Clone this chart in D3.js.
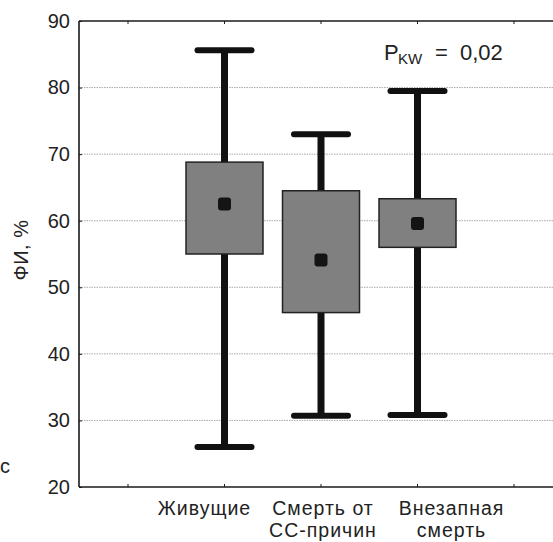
<!DOCTYPE html>
<html>
<head>
<meta charset="utf-8">
<script src="https://cdn.jsdelivr.net/npm/d3@7"></script>
<style>
  body { margin: 0; background: #fff; }
  svg { display: block; font-family: "Liberation Sans", Arial, sans-serif; }
  .grid line { stroke: #a8a8a8; stroke-width: 1; stroke-dasharray: 1.5,1; }
</style>
</head>
<body>
<div id="chart"></div>
<script>
// categories and box statistics
const groups = [['Живущие'], ['Смерть от', 'СС-причин'], ['Внезапная', 'смерть']];
const whiskerMax = [85.6, 73.0, 79.5];
const boxTop = [68.8, 64.5, 63.3];
const medians = [62.5, 54.1, 59.6];
const boxBottom = [55.0, 46.2, 56.0];
const whiskerMin = [26.0, 30.7, 30.8];
const yTicks = [20, 30, 40, 50, 60, 70, 80, 90];
const gridTicks = [30, 40, 50, 60, 70, 80];

const W = 553, H = 542;
const plotLeft = 79, plotTop = 21, plotBottom = 487;

const svg = d3.select('#chart').append('svg')
  .attr('width', W)
  .attr('height', H);

// x positions 0..4, groups sit at 1..3
const x = d3.scaleLinear().domain([0, 4]).range([128, 514]);
const y = d3.scaleLinear().domain([20, 90]).range([plotBottom, plotTop]);

// grid
svg.append('g')
  .attr('class', 'grid')
  .selectAll('line')
  .data(gridTicks)
  .enter().append('line')
  .attr('x1', plotLeft).attr('x2', W)
  .attr('y1', d => y(d)).attr('y2', d => y(d));

// frame
const frame = svg.append('g').attr('stroke', '#1a1a1a').attr('stroke-width', 1.6);
frame.append('line').attr('x1', plotLeft).attr('x2', W).attr('y1', plotTop).attr('y2', plotTop);
frame.append('line').attr('x1', plotLeft).attr('x2', W).attr('y1', plotBottom).attr('y2', plotBottom);
frame.append('line').attr('x1', plotLeft).attr('x2', plotLeft).attr('y1', plotTop).attr('y2', plotBottom);

// small inner ticks on x frame
[0, 1, 2, 3, 4].forEach(i => {
  frame.append('line').attr('stroke-width', 1)
    .attr('x1', x(i)).attr('x2', x(i)).attr('y1', plotTop).attr('y2', plotTop + 3);
  frame.append('line').attr('stroke-width', 1)
    .attr('x1', x(i)).attr('x2', x(i)).attr('y1', plotBottom).attr('y2', plotBottom - 3);
});

// y axis labels
const yAxis = d3.axisLeft(y).tickValues(yTicks).tickSize(-3).tickPadding(9);
const ya = svg.append('g').attr('transform', `translate(${plotLeft},0)`).call(yAxis);
ya.select('.domain').remove();
ya.selectAll('.tick line').attr('stroke', '#1a1a1a');
ya.selectAll('.tick text')
  .attr('font-size', 20)
  .attr('fill', '#222')
  .attr('font-family', '"Liberation Sans", Arial, sans-serif');

svg.append('text')
  .attr('transform', 'translate(28,250) rotate(-90)')
  .attr('text-anchor', 'middle')
  .attr('font-size', 20)
  .attr('letter-spacing', 0.5)
  .attr('fill', '#222')
  .text('ФИ, %');

svg.append('text')
  .attr('x', 0).attr('y', 473)
  .attr('font-size', 20)
  .attr('fill', '#222')
  .text('с');

// boxes
const boxW = 77, capW = 54;
const g = svg.append('g');
groups.forEach((name, i) => {
  const cx = x(i + 1);
  g.append('line')
    .attr('x1', cx).attr('x2', cx)
    .attr('y1', y(whiskerMax[i])).attr('y2', y(whiskerMin[i]))
    .attr('stroke', '#111').attr('stroke-width', 7);
  [whiskerMax[i], whiskerMin[i]].forEach(v => {
    g.append('line')
      .attr('x1', cx - capW / 2).attr('x2', cx + capW / 2)
      .attr('y1', y(v)).attr('y2', y(v))
      .attr('stroke', '#111').attr('stroke-width', 6)
      .attr('stroke-linecap', 'round');
  });
  g.append('rect')
    .attr('x', cx - boxW / 2)
    .attr('y', y(boxTop[i]))
    .attr('width', boxW)
    .attr('height', y(boxBottom[i]) - y(boxTop[i]))
    .attr('fill', '#808080')
    .attr('stroke', '#222')
    .attr('stroke-width', 1.5);
  g.append('rect')
    .attr('x', cx - 6.5).attr('y', y(medians[i]) - 6.5)
    .attr('width', 13).attr('height', 13)
    .attr('rx', 3)
    .attr('fill', '#141414');
});

// category labels (offset as in the original layout)
const labelShift = [-20, 2, 34];
groups.forEach((lines, i) => {
  const t = svg.append('text')
    .attr('text-anchor', 'middle')
    .attr('font-size', 19.5)
    .attr('letter-spacing', 1)
    .attr('fill', '#222');
  lines.forEach((s, k) => {
    t.append('tspan')
      .attr('x', x(i + 1) + labelShift[i])
      .attr('y', 515 + k * 22)
      .text(s);
  });
});

// Kruskal-Wallis note
const p = svg.append('text').attr('font-size', 22).attr('fill', '#222');
p.append('tspan').attr('x', 384).attr('y', 60).text('P');
p.append('tspan').attr('x', 398).attr('y', 64).attr('font-size', 15).text('KW');
p.append('tspan').attr('x', 435).attr('y', 60).text('=');
p.append('tspan').attr('x', 460).attr('y', 60).text('0,02');
</script>
</body>
</html>
